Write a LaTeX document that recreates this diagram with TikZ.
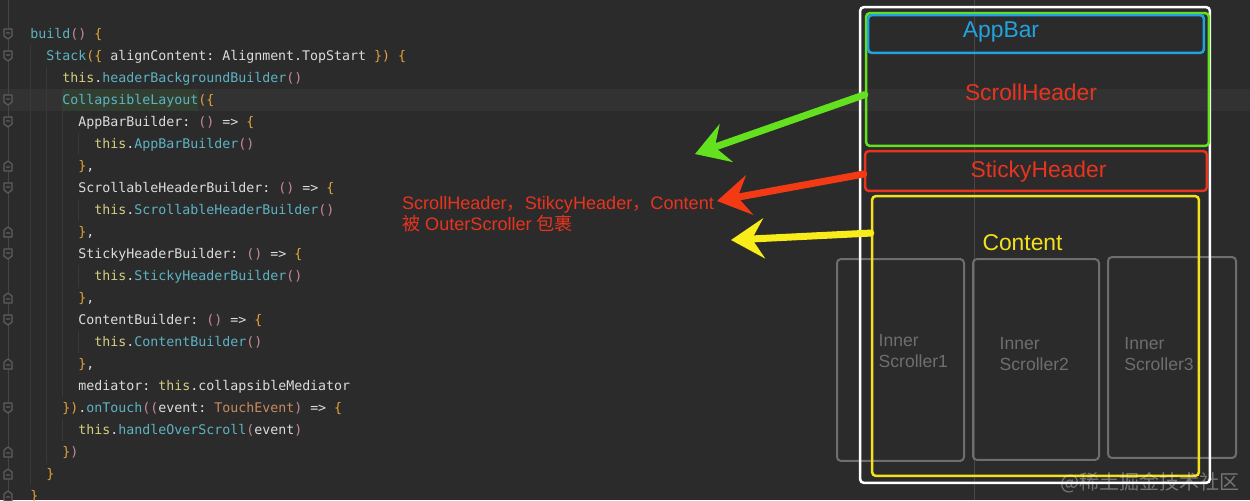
\documentclass[tikz,border=0pt]{standalone}
\usepackage{fontspec}
\setmainfont{Liberation Sans}
\setmonofont{DejaVu Sans Mono}
\newfontfamily\cjk{Noto Sans CJK SC}
\usetikzlibrary{arrows.meta}

\definecolor{editorbg}{HTML}{2B2B2B}
\definecolor{linehl}{HTML}{323232}
\definecolor{wordhl}{HTML}{323F30}
\definecolor{guide}{HTML}{393939}
\definecolor{gutterln}{HTML}{454545}
\definecolor{foldicon}{HTML}{5E5E5E}
\definecolor{marginln}{HTML}{474747}
\definecolor{codefg}{HTML}{DCDCDC}
\definecolor{codefnc}{HTML}{5DB3C4}
\definecolor{codethisc}{HTML}{D6CE80}
\definecolor{codebrc}{HTML}{E3A53A}
\definecolor{codeparc}{HTML}{C98A98}
\definecolor{codetypec}{HTML}{C88A5C}
\definecolor{appbarblue}{HTML}{22A3DF}
\definecolor{scrollgreen}{HTML}{63E11F}
\definecolor{stickyred}{HTML}{E8341F}
\definecolor{arrowred}{HTML}{F43A14}
\definecolor{contentyellow}{HTML}{F3E21B}
\definecolor{arrowyellow}{HTML}{F8EC1A}
\definecolor{innergray}{HTML}{6E6E6E}

\newcommand\codefont{\ttfamily\fontsize{7.56}{9}\selectfont\frenchspacing}
\newcommand\codefn[1]{\textcolor{codefnc}{#1}}
\newcommand\codethis[1]{\textcolor{codethisc}{#1}}
\newcommand\codebr[1]{\textcolor{codebrc}{#1}}
\newcommand\codepar[1]{\textcolor{codeparc}{#1}}
\newcommand\codetype[1]{\textcolor{codetypec}{#1}}

\tikzset{
  codeline/.style={anchor=base west, inner sep=0pt, font=\codefont, text=codefg},
  foldmark/.style={draw=foldicon, fill=editorbg, line width=0.025cm, line join=round},
  panel/.style={draw, rounded corners=0.08cm, line width=0.05cm, inner sep=0pt},
  inner/.style={panel, draw=innergray, line width=0.04cm},
  boxlabel/.style={anchor=base, inner sep=0pt, font=\fontsize{13}{15}\selectfont},
  innerlabel/.style={anchor=base west, inner sep=0pt, align=left, text=innergray,
    font=\fontsize{10}{11.95}\selectfont},
  pointer/.style={line width=0.14cm, line cap=round,
    -{Stealth[length=0.66cm, width=0.8cm, inset=0.24cm]}},
}

\begin{document}
\begin{tikzpicture}[x=0.02cm, y=-0.02cm]
\useasboundingbox (0,0) rectangle (1250,500);
\fill[editorbg] (0,0) rectangle (1250,500);
% editor chrome
\fill[linehl] (0,89) rectangle (1250,111);
\fill[wordhl] (62,89) rectangle (198,111);
\draw[marginln, line width=0.02cm] (974,0) -- (974,500);
\draw[gutterln, line width=0.02cm] (8,0) -- (8,500);
\foreach \gx/\ya/\yb in {30/45/485, 46/67/463, 62/111/397, 62/419/441,
  78/133/155, 78/199/221, 78/265/287, 78/331/353}
  \draw[guide, line width=0.02cm] (\gx,\ya) -- (\gx,\yb);
\foreach \i in {0,1,3,4,7,10,13,17}
  \draw[foldmark] (4,{29+22*\i}) -- (12,{29+22*\i}) -- (12,{36+22*\i}) -- (8,{39+22*\i}) -- (4,{36+22*\i}) -- cycle
    (6,{33+22*\i}) -- (10,{33+22*\i});
\foreach \i in {6,9,12,15,19,20,21}
  \draw[foldmark] (4,{39+22*\i}) -- (12,{39+22*\i}) -- (12,{32+22*\i}) -- (8,{29+22*\i}) -- (4,{32+22*\i}) -- cycle
    (6,{35+22*\i}) -- (10,{35+22*\i});

% code
\node[codeline] (ln0) at (30,38.5) {\codefn{build}\codepar{()} \codebr{\{}};
\node[codeline] (ln1) at (46,60.5) {\codefn{Stack}\codebr{(\{} alignContent: Alignment.TopStart \codebr{\})} \codebr{\{}};
\node[codeline] (ln2) at (62,82.5) {\codethis{this}.\codefn{headerBackgroundBuilder}\codepar{()}};
\node[codeline] (ln3) at (62,104.5) {\codefn{CollapsibleLayout}\codebr{(\{}};
\node[codeline] (ln4) at (78,126.5) {AppBarBuilder: \codepar{()} => \codebr{\{}};
\node[codeline] (ln5) at (94,148.5) {\codethis{this}.\codefn{AppBarBuilder}\codepar{()}};
\node[codeline] (ln6) at (78,170.5) {\codebr{\}},};
\node[codeline] (ln7) at (78,192.5) {ScrollableHeaderBuilder: \codepar{()} => \codebr{\{}};
\node[codeline] (ln8) at (94,214.5) {\codethis{this}.\codefn{ScrollableHeaderBuilder}\codepar{()}};
\node[codeline] (ln9) at (78,236.5) {\codebr{\}},};
\node[codeline] (ln10) at (78,258.5) {StickyHeaderBuilder: \codepar{()} => \codebr{\{}};
\node[codeline] (ln11) at (94,280.5) {\codethis{this}.\codefn{StickyHeaderBuilder}\codepar{()}};
\node[codeline] (ln12) at (78,302.5) {\codebr{\}},};
\node[codeline] (ln13) at (78,324.5) {ContentBuilder: \codepar{()} => \codebr{\{}};
\node[codeline] (ln14) at (94,346.5) {\codethis{this}.\codefn{ContentBuilder}\codepar{()}};
\node[codeline] (ln15) at (78,368.5) {\codebr{\}},};
\node[codeline] (ln16) at (78,390.5) {mediator: \codethis{this}.collapsibleMediator};
\node[codeline] (ln17) at (62,412.5) {\codebr{\})}.\codefn{onTouch}\codepar{((}event: \codetype{TouchEvent}\codepar{)} => \codebr{\{}};
\node[codeline] (ln18) at (78,434.5) {\codethis{this}.\codefn{handleOverScroll}\codepar{(}event\codepar{)}};
\node[codeline] (ln19) at (62,456.5) {\codebr{\}}\codepar{)}};
\node[codeline] (ln20) at (46,478.5) {\codebr{\}}};
\node[codeline] (ln21) at (30,500.5) {\codebr{\}}};

% layout boxes
\node[inner, minimum width=2.54cm, minimum height=4.04cm] (inner1) at (900.5,360) {};
\node[inner, minimum width=2.52cm, minimum height=4.02cm] (inner2) at (1036,359.5) {};
\node[inner, minimum width=2.56cm, minimum height=4.02cm] (inner3) at (1172,357.5) {};
\node[panel, draw=white, minimum width=7cm, minimum height=9.52cm] (outer) at (1035,245) {};
\node[panel, draw=scrollgreen, minimum width=6.86cm, minimum height=2.66cm] (scrollhdr) at (1037.5,79.5) {};
\node[panel, draw=appbarblue, minimum width=6.72cm, minimum height=0.76cm] (appbar) at (1036,34) {};
\node[panel, draw=stickyred, minimum width=6.84cm, minimum height=0.8cm] (sticky) at (1036,171) {};
\node[panel, draw=contentyellow, minimum width=6.54cm, minimum height=5.6cm] (content) at (1035.5,336) {};

\node[boxlabel, text=appbarblue] (appbartxt) at (1001,37.3) {AppBar};
\node[boxlabel, text=stickyred] (scrolltxt) at (1031,100.7) {ScrollHeader};
\node[boxlabel, text=stickyred] (stickytxt) at (1038.5,177.7) {StickyHeader};
\node[boxlabel, text=contentyellow] (contenttxt) at (1022.5,250) {Content};
\node[innerlabel] (inner1txt) at (878.3,367) {Inner\\Scroller1};
\node[innerlabel] (inner2txt) at (999.3,370) {Inner\\Scroller2};
\node[innerlabel] (inner3txt) at (1124,370) {Inner\\Scroller3};

% arrows and note
\coordinate (greentip) at (695,154);
\coordinate (redtip) at (717,201);
\coordinate (yellowtip) at (731,240);
\draw[pointer, scrollgreen] (scrollhdr.185) -- (greentip);
\draw[pointer, arrowred] (sticky.181) -- (redtip);
\draw[pointer, arrowyellow] (content.148) -- (yellowtip);
\node[anchor=base west, inner sep=0pt, align=left, text=stickyred,
  font=\fontsize{10.3}{11.95}\selectfont] (note) at (401.7,230)
  {ScrollHeader{\cjk ，}StikcyHeader{\cjk ，}Content\\{\cjk 被} OuterScroller {\cjk 包裹}};

\node[anchor=base east, inner sep=0pt, text=white, opacity=0.35,
  font=\cjk\fontsize{11.4}{13}\selectfont] (mark) at (1240,489) {@稀土掘金技术社区};
\end{tikzpicture}
\end{document}
